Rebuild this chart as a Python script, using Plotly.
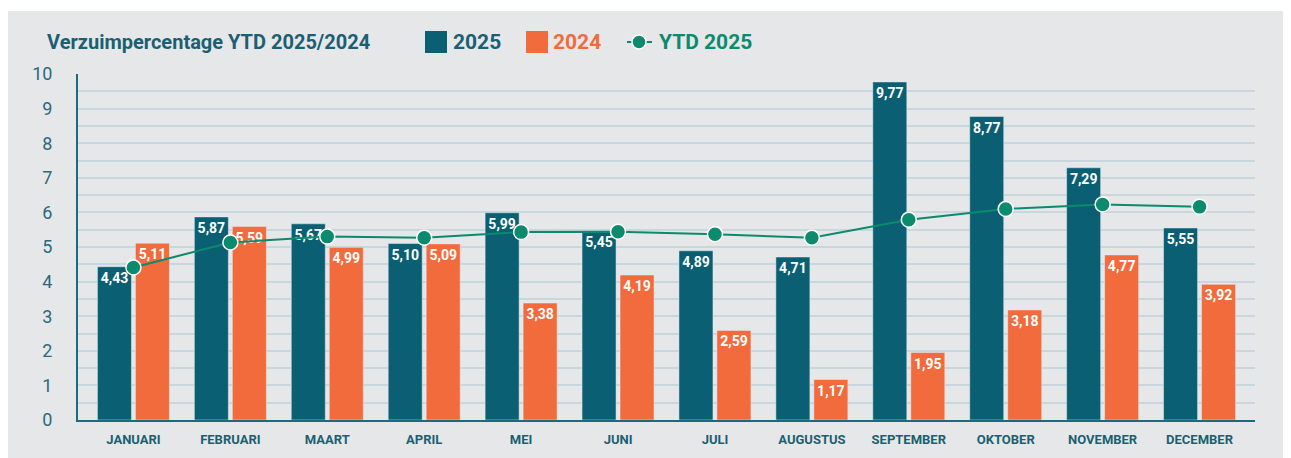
import plotly.graph_objects as go

months = ["JANUARI", "FEBRUARI", "MAART", "APRIL", "MEI", "JUNI", "JULI",
          "AUGUSTUS", "SEPTEMBER", "OKTOBER", "NOVEMBER", "DECEMBER"]
v2025 = [4.43, 5.87, 5.67, 5.10, 5.99, 5.45, 4.89, 4.71, 9.77, 8.77, 7.29, 5.55]
v2024 = [5.11, 5.59, 4.99, 5.09, 3.38, 4.19, 2.59, 1.17, 1.95, 3.18, 4.77, 3.92]
ytd2025 = [4.41, 5.13, 5.30, 5.27, 5.43, 5.44, 5.37, 5.27, 5.79, 6.10, 6.23, 6.16]
yticks = list(range(0, 11))

C25 = "#0a5f72"
C24 = "#f26b3c"
CYTD = "#0b8a6e"
TEAL = "#1b5f72"
FONT = "Roboto"

# the page body has an 8px margin; figure is sized to fit the window
OFF = 8
W, H = 1291 - OFF, 458 - OFF
# plot area in window pixels: x 78..1255, y 74..420
ML, MR, MT, MB = 78 - OFF, 1291 - 1255, 74 - OFF, 458 - 420
pw, ph = W - ML - MR, H - MT - MB


def px(x):  # window pixel -> paper
    return (x - OFF - ML) / pw


def py(y):
    return 1 - (y - OFF - MT) / ph


fig = go.Figure()
fig.add_trace(go.Bar(x=months, y=v2025, name="2025", marker_color=C25,
                     texttemplate="%{y:.2f}", textposition="inside",
                     insidetextanchor="end", textangle=0,
                     textfont=dict(family=FONT, size=14, color="white", weight="bold"),
                     showlegend=False, hoverinfo="y"))
fig.add_trace(go.Bar(x=months, y=v2024, name="2024", marker_color=C24,
                     texttemplate="%{y:.2f}", textposition="inside",
                     insidetextanchor="end", textangle=0,
                     textfont=dict(family=FONT, size=14, color="white", weight="bold"),
                     showlegend=False, hoverinfo="y"))
fig.add_trace(go.Scatter(x=months, y=ytd2025, name="YTD 2025", mode="lines+markers",
                         line=dict(color=CYTD, width=2),
                         marker=dict(size=15, color=CYTD, line=dict(color="white", width=1.5)),
                         showlegend=False))

shapes = [
    dict(type="rect", xref="paper", yref="paper", x0=px(7), x1=px(1300), y0=py(11), y1=py(470),
         fillcolor="#e5e7e9", line_width=0, layer="below"),
    # legend symbols
    dict(type="rect", xref="paper", yref="paper", x0=px(425), x1=px(447), y0=py(31), y1=py(53),
         fillcolor=C25, line_width=0),
    dict(type="rect", xref="paper", yref="paper", x0=px(526), x1=px(548), y0=py(31), y1=py(53),
         fillcolor=C24, line_width=0),
    dict(type="line", xref="paper", yref="paper", x0=px(627), x1=px(652), y0=py(42), y1=py(42),
         line=dict(color=CYTD, width=2)),
    dict(type="circle", xref="paper", yref="paper", x0=px(632), x1=px(646), y0=py(35), y1=py(49),
         fillcolor=CYTD, line=dict(color="white", width=1.5)),
]

annotations = [
    dict(text="<b>Verzuimpercentage YTD 2025/2024</b>", xref="paper", yref="paper",
         x=px(45), y=py(42), xanchor="left", yanchor="middle", showarrow=False,
         font=dict(family=FONT, size=20, color=TEAL)),
    dict(text="<b>2025</b>", xref="paper", yref="paper", x=px(451), y=py(42),
         xanchor="left", yanchor="middle", showarrow=False,
         font=dict(family=FONT, size=21, color=TEAL)),
    dict(text="<b>2024</b>", xref="paper", yref="paper", x=px(551), y=py(42),
         xanchor="left", yanchor="middle", showarrow=False,
         font=dict(family=FONT, size=21, color=C24)),
    dict(text="<b>YTD 2025</b>", xref="paper", yref="paper", x=px(657), y=py(42),
         xanchor="left", yanchor="middle", showarrow=False,
         font=dict(family=FONT, size=21, color=CYTD)),
]

fig.update_layout(
    width=W, height=H,
    margin=dict(l=ML, r=MR, t=MT, b=MB, pad=0),
    paper_bgcolor="white", plot_bgcolor="rgba(0,0,0,0)",
    barmode="group", bargap=0.216, bargroupgap=0.105,
    separators=",.",
    shapes=shapes, annotations=annotations,
    showlegend=False,
    font=dict(family=FONT, color=TEAL),
    uniformtext=dict(minsize=8, mode="show"),
)
fig.update_xaxes(type="category", range=[-0.572, 11.572],
                 showline=True, linecolor="#1b6a7d", linewidth=2,
                 showgrid=False, ticks="", fixedrange=True,
                 tickfont=dict(family=FONT, size=13, color=TEAL, weight="bold"),
                 ticklabelstandoff=6)
fig.update_yaxes(range=[0, 10], tickvals=yticks, ticktext=[str(t) for t in yticks],
                 showline=True, linecolor="#1b6a7d", linewidth=2,
                 showgrid=True, gridcolor="#c8d6de", gridwidth=1.5,
                 minor=dict(dtick=0.5, showgrid=True, gridcolor="#c8d6de", gridwidth=1.5),
                 zeroline=False, ticks="",
                 tickfont=dict(family=FONT, size=18, color="#2a6a7d"),
                 ticklabelstandoff=20)

fig.write_html("out.html")
